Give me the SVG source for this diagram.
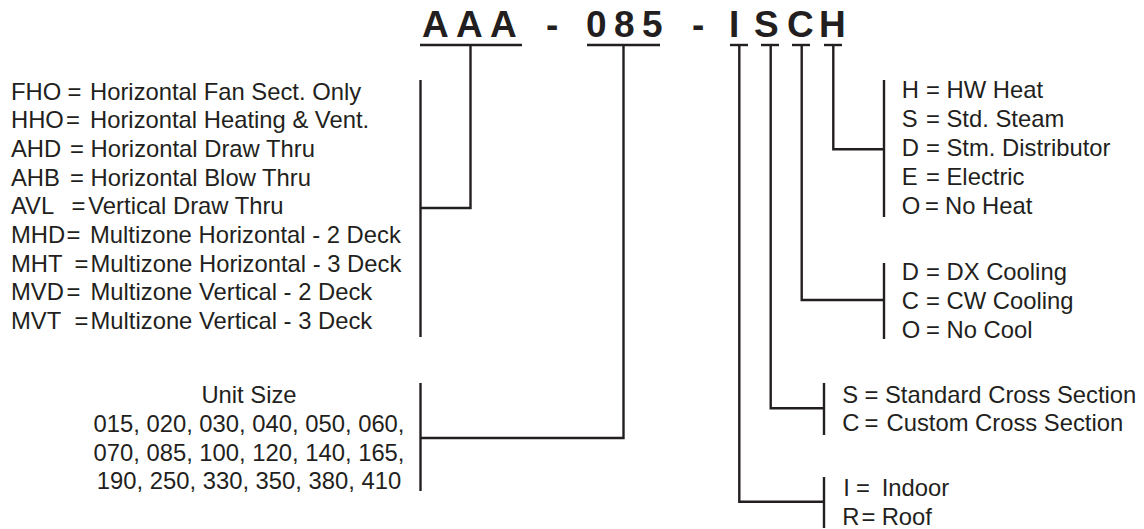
<svg xmlns="http://www.w3.org/2000/svg" width="1144" height="529" viewBox="0 0 1144 529">
<style>
.t{font-family:"Liberation Sans",Arial,sans-serif;font-size:23.8px;fill:#231f20}
.title{font-family:"Liberation Sans",Arial,sans-serif;font-size:37px;font-weight:bold;fill:#231f20}
.c line,.c path{stroke:#231f20;stroke-width:2.4;fill:none}
</style>
<rect width="1144" height="529" fill="#fff"/>
<g id="title">
<text class="title" y="37" x="422 456 490 520 546 560 586 614 642 665 692 706 729 754 787 819">AAA - 085 - ISCH</text>
</g>
<g id="connectors" class="c">
<line x1="420" y1="45" x2="522" y2="45"/>
<line x1="587" y1="45" x2="660" y2="45"/>
<line x1="730" y1="45" x2="748" y2="45"/>
<line x1="761" y1="45" x2="779" y2="45"/>
<line x1="792" y1="45" x2="810" y2="45"/>
<line x1="824" y1="45" x2="842" y2="45"/>
<path d="M470.5 45V208H420.5"/>
<path d="M623.5 45V438H420.5"/>
<path d="M739.3 45V501.7H824"/>
<path d="M770.7 45V408.3H824"/>
<path d="M801.7 45V300H884"/>
<path d="M833.3 45V149.3H884"/>
<line x1="420.5" y1="80" x2="420.5" y2="337"/>
<line x1="420.5" y1="383" x2="420.5" y2="491"/>
<line x1="884" y1="80" x2="884" y2="217"/>
<line x1="884" y1="263" x2="884" y2="339"/>
<line x1="824" y1="383" x2="824" y2="435"/>
<line x1="824" y1="477" x2="824" y2="528"/>
</g>
<g id="model-types" class="t">
<text y="99.5"><tspan x="11">FHO </tspan><tspan x="67.5">= </tspan><tspan x="90">Horizontal Fan Sect. Only</tspan></text>
<text y="128.2"><tspan x="11">HHO</tspan><tspan x="66">= </tspan><tspan x="90">Horizontal Heating &amp; Vent.</tspan></text>
<text y="156.9"><tspan x="11">AHD </tspan><tspan x="70">= </tspan><tspan x="90.5">Horizontal Draw Thru</tspan></text>
<text y="185.6"><tspan x="11">AHB </tspan><tspan x="70">= </tspan><tspan x="90.5">Horizontal Blow Thru</tspan></text>
<text y="214.3"><tspan x="11">AVL </tspan><tspan x="71.5">=</tspan><tspan x="88.3">Vertical Draw Thru</tspan></text>
<text y="243"><tspan x="11">MHD</tspan><tspan x="66.5">= </tspan><tspan x="90">Multizone Horizontal - 2 Deck</tspan></text>
<text y="271.7"><tspan x="11">MHT </tspan><tspan x="74.5">=</tspan><tspan x="90.5">Multizone Horizontal - 3 Deck</tspan></text>
<text y="300.4"><tspan x="11">MVD</tspan><tspan x="66.5">= </tspan><tspan x="90.5">Multizone Vertical - 2 Deck</tspan></text>
<text y="329.1"><tspan x="11">MVT </tspan><tspan x="74.5">=</tspan><tspan x="90.5">Multizone Vertical - 3 Deck</tspan></text>
</g>
<g id="unit-size" class="t" text-anchor="middle">
<text x="249" y="402.7">Unit Size</text>
<text x="249" y="431.7">015, 020, 030, 040, 050, 060,</text>
<text x="249" y="460.5">070, 085, 100, 120, 140, 165,</text>
<text x="249" y="489.3">190, 250, 330, 350, 380, 410</text>
</g>
<g id="heat" class="t">
<text y="97.5"><tspan x="901.7">H </tspan><tspan x="926">= </tspan><tspan x="946.5">HW Heat</tspan></text>
<text y="126.7"><tspan x="901.7">S </tspan><tspan x="926">= </tspan><tspan x="946.5">Std. Steam</tspan></text>
<text y="155.9"><tspan x="901.7">D </tspan><tspan x="926">= </tspan><tspan x="946.5">Stm. Distributor</tspan></text>
<text y="185.1"><tspan x="901.7">E </tspan><tspan x="926">= </tspan><tspan x="946.5">Electric</tspan></text>
<text y="214.3"><tspan x="901.7">O </tspan><tspan x="925">=</tspan><tspan x="945">No Heat</tspan></text>
</g>
<g id="cooling" class="t">
<text y="279.5"><tspan x="901.7">D </tspan><tspan x="926">= </tspan><tspan x="946.5">DX Cooling</tspan></text>
<text y="308.5"><tspan x="901.7">C </tspan><tspan x="926">= </tspan><tspan x="946.5">CW Cooling</tspan></text>
<text y="337.5"><tspan x="901.7">O </tspan><tspan x="926">= </tspan><tspan x="946.5">No Cool</tspan></text>
</g>
<g id="cross-section" class="t">
<text y="402.5"><tspan x="842.3">S </tspan><tspan x="864.5">= </tspan><tspan x="885">Standard Cross Section</tspan></text>
<text y="431"><tspan x="842.3">C </tspan><tspan x="864.5">= </tspan><tspan x="886.5">Custom Cross Section</tspan></text>
</g>
<g id="location" class="t">
<text y="496"><tspan x="843.3">I </tspan><tspan x="856">= </tspan><tspan x="881.7">Indoor</tspan></text>
<text y="524.5"><tspan x="842.3">R</tspan><tspan x="861.5">=</tspan><tspan x="881.7">Roof</tspan></text>
</g>
</svg>
